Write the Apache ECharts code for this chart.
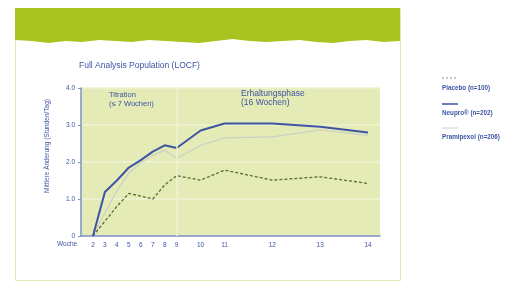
<!DOCTYPE html>
<html>
<head>
  <meta charset="utf-8">
  <title>Full Analysis Population (LOCF)</title>
  <style>
    html, body { margin: 0; padding: 0; background: #fff; }
    #main { width: 517px; height: 282px; }
  </style>
</head>
<body>
<div id="main"></div>
<script src="https://cdn.jsdelivr.net/npm/echarts@6/dist/echarts.min.js"></script>
<script>
// Wochen, an denen gemessen wurde
var weeks = [2, 3, 4, 5, 6, 7, 8, 9, 10, 11, 12, 13, 14];
// Achsen-Slots: leere Slots strecken die spaeteren Wochen wie im Original
var axisSlots = ['', '2', '3', '4', '5', '6', '7', '8', '9', '', '10', '', '11',
  '', '', '', '12', '', '', '', '13', '', '', '', '14', ''];
var yTicks = [0, 1, 2, 3, 4];

// mittlere Aenderung (Stunden/Tag)
var placebo    = [0, 0.40, 0.80, 1.15, 1.08, 1.00, 1.38, 1.63, 1.51, 1.78, 1.51, 1.60, 1.42];
var neupro     = [0, 1.19, 1.50, 1.85, 2.05, 2.28, 2.45, 2.38, 2.85, 3.04, 3.04, 2.95, 2.80];
var pramipexol = [0, 0.62, 1.22, 1.70, 1.98, 2.18, 2.32, 2.10, 2.45, 2.65, 2.68, 2.87, 2.72];

var seriesNames = ['Placebo', 'Neupro\u00ae', 'Pramipexol'];
var seriesN = ['(n=100)', '(n=202)', '(n=206)'];

// Werte auf die Slots der Kategorieachse legen
function onSlots(values) {
  return axisSlots.map(function (s) {
    var i = weeks.indexOf(Number(s));
    return s === '' || i < 0 ? null : values[i];
  });
}

var blue = '#3d55a3';
var font = 'Liberation Sans';

// abgerissene Unterkante des gruenen Kopfbalkens
var torn = [[15, 8], [400, 8], [400, 41]];
var tornY = [41, 42, 40, 41, 43, 42, 40, 41, 42, 41, 39, 41, 43, 42, 41, 40, 42, 41, 40, 42, 41, 43, 41, 40];
for (var k = 0; k < tornY.length; k++) {
  torn.push([400 - k * (385 / (tornY.length - 1)), tornY[k]]);
}

var chart = echarts.init(document.getElementById('main'));
chart.setOption({
  animation: false,
  backgroundColor: '#ffffff',
  textStyle: { fontFamily: font },
  grid: { left: 81, right: 137, top: 88, bottom: 46, show: true,
    backgroundColor: '#e5ebb7', borderWidth: 0 },
  graphic: [
    { type: 'rect', z: -10, shape: { x: 15.5, y: 8.5, width: 385, height: 272 },
      style: { fill: '#ffffff', stroke: '#dfe7b5', lineWidth: 1 } },
    { type: 'polygon', z: -9, shape: { points: torn }, style: { fill: '#a9c41f' } },
    { type: 'text', left: 79, top: 61, style: { text: 'Full Analysis Population (LOCF)',
      fill: blue, font: '8.5px ' + font } },
    { type: 'text', left: 109, top: 91, style: { text: 'Titration\n(\u2264 7 Wochen)',
      fill: blue, font: '7.5px ' + font, lineHeight: 8.5 } },
    { type: 'text', left: 241, top: 89, style: { text: 'Erhaltungsphase\n(16 Wochen)',
      fill: blue, font: '8.5px ' + font, lineHeight: 9 } },
    { type: 'text', left: 57, top: 241, style: { text: 'Woche', fill: blue, font: '6.5px ' + font } },
    { type: 'text', x: 47, y: 146, rotation: Math.PI / 2,
      style: { text: 'Mittlere \u00c4nderung (Stunden/Tag)', fill: blue,
        font: '6.5px ' + font, align: 'center', verticalAlign: 'middle' } },
    // Legende
    { type: 'line', shape: { x1: 442, y1: 78, x2: 458, y2: 78 },
      style: { stroke: '#8a8f80', lineWidth: 1, lineDash: [2, 2] } },
    { type: 'text', left: 442, top: 85, style: { text: seriesNames[0] + ' ' + seriesN[0],
      fill: blue, font: 'bold 6.3px ' + font } },
    { type: 'line', shape: { x1: 442, y1: 104, x2: 458, y2: 104 },
      style: { stroke: blue, lineWidth: 1.5 } },
    { type: 'text', left: 442, top: 110, style: { text: seriesNames[1] + ' ' + seriesN[1],
      fill: blue, font: 'bold 6.3px ' + font } },
    { type: 'line', shape: { x1: 442, y1: 128, x2: 458, y2: 128 },
      style: { stroke: '#cfd2c6', lineWidth: 1 } },
    { type: 'text', left: 442, top: 134, style: { text: seriesNames[2] + ' ' + seriesN[2],
      fill: blue, font: 'bold 6.3px ' + font } }
  ],
  xAxis: {
    type: 'category',
    data: axisSlots,
    boundaryGap: false,
    axisLine: { lineStyle: { color: '#7f90c4', width: 1.5 } },
    axisTick: { show: false },
    splitLine: { show: false },
    axisLabel: {
      interval: function (i, v) { return v !== ''; },
      color: blue, fontSize: 6.5, margin: 6
    }
  },
  yAxis: {
    type: 'value',
    min: yTicks[0], max: yTicks[yTicks.length - 1], interval: 1,
    axisLine: { show: true, lineStyle: { color: '#7f90c4', width: 1.5 } },
    axisTick: { show: true, length: 3, lineStyle: { color: '#7f90c4' } },
    splitLine: { lineStyle: { color: '#eef2d2', width: 1.5 } },
    axisLabel: {
      color: blue, fontSize: 6.5, margin: 6,
      formatter: function (v) { return v === 0 ? '0' : v.toFixed(1); }
    }
  },
  series: [
    { name: seriesNames[2], type: 'line', data: onSlots(pramipexol), connectNulls: true,
      symbol: 'none', lineStyle: { color: '#cdd0c2', width: 1.3 },
      markLine: { silent: true, symbol: 'none', label: { show: false },
        lineStyle: { color: '#eef2d2', width: 1.5, type: 'solid' },
        data: [{ xAxis: '9' }] } },
    { name: seriesNames[0], type: 'line', data: onSlots(placebo), connectNulls: true,
      symbol: 'none', lineStyle: { color: '#5d6b2e', width: 1.3, type: [3, 2] } },
    { name: seriesNames[1], type: 'line', data: onSlots(neupro), connectNulls: true,
      symbol: 'none', lineStyle: { color: blue, width: 2 } }
  ]
});
</script>
</body>
</html>
